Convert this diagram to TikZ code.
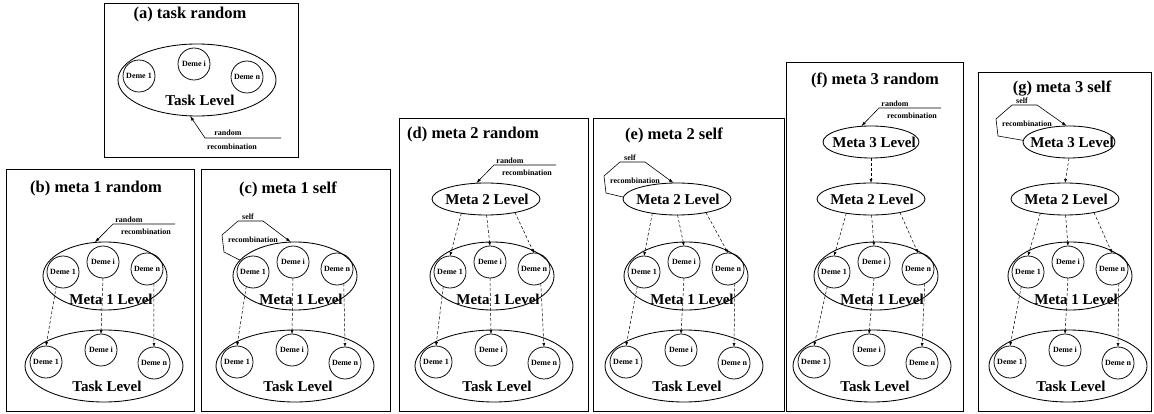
\documentclass[tikz,border=0pt]{standalone}
\usepackage{fontspec}
\setmainfont{Liberation Serif}
\usetikzlibrary{shapes.geometric,calc,arrows.meta}
\tikzset{
  frame/.style={draw, line width=0.7pt},
  ttl/.style={font=\fontsize{16.5}{16.5}\selectfont\bfseries, inner sep=0},
  lvlell/.style={draw, ellipse, line width=0.85pt, inner sep=0, outer sep=0},
  deme/.style={draw, circle, line width=0.75pt, minimum size=32pt, inner sep=0, outer sep=0, font=\fontsize{8}{8}\selectfont\bfseries},
  lvltxt/.style={font=\fontsize{15}{15}\selectfont\bfseries, inner sep=0},
  anntxt/.style={font=\fontsize{8}{8}\selectfont\bfseries, inner sep=0},
  dep/.style={draw, dash pattern=on 3pt off 2pt, line width=0.5pt, -{Latex[length=4pt,width=3pt]}},
  ann/.style={draw, line width=0.6pt, -{Latex[length=5pt,width=3pt]}},
}
\newcommand\taskgrp[3]{%
  \node[lvlell, minimum width=158pt, minimum height=72pt] (#1) at (#2,#3) {};
  \node[deme] (#1-1) at ($(#1)+(-58,-4)$) {Deme 1};
  \node[deme] (#1-i) at ($(#1)+(-3,-16)$) {Deme i};
  \node[deme] (#1-n) at ($(#1)+(50,-3)$) {Deme n};
  \node[lvltxt] (#1-l) at ($(#1)+(3,20)$) {Task Level};}
\newcommand\metaonegrp[3]{%
  \node[lvlell, minimum width=124pt, minimum height=68pt] (#1) at (#2,#3) {};
  \node[deme] (#1-1) at ($(#1)+(-42,-4)$) {Deme 1};
  \node[deme] (#1-i) at ($(#1)+(-2,-14)$) {Deme i};
  \node[deme] (#1-n) at ($(#1)+(42,-7)$) {Deme n};
  \node[lvltxt] (#1-l) at ($(#1)+(6,23)$) {Meta 1 Level};}
\newcommand\metagrp[6]{%
  \node[lvlell, minimum width=#5pt, minimum height=32pt] (#1) at (#2,#3) {};
  \node[lvltxt] (#1-l) at ($(#1)+(#6,0)$) {#4};}
\newcommand\depsdown[2]{%
  \draw[dep] (#1-1.-115) -- (#2-1.north);
  \draw[dep] (#1-i.south) -- (#2-i.north);
  \draw[dep] (#1-n.-65) -- (#2-n.north);}
\newcommand\depsmeta[2]{%
  \draw[dep] (#1.-150) -- (#2-1.north);
  \draw[dep] (#1.-88) -- (#2-i.north);
  \draw[dep] (#1.-25) -- (#2-n.north);}
\newcommand\randann[2]{%
  \coordinate (#1-ra) at ($(#1.north)+(8,-18)$);
  \coordinate (#1-rb) at ($(#1.north)+(70,-18)$);
  \draw[ann] (#1-rb) -- (#1-ra) -- (#1.#2);
  \node[anntxt] (#1-rt) at ($(#1-ra)+(16,-4)$) {random};
  \node[anntxt] (#1-rr) at ($(#1-ra)+(33,8)$) {recombination};}
\newcommand\selfann[3]{%
  \coordinate (#1-s1) at ($(#1.north)+(-71,10)$);
  \coordinate (#1-s2) at ($(#1.north)+(-73,-7)$);
  \coordinate (#1-s3) at ($(#1.north)+(-57,-21)$);
  \coordinate (#1-s4) at ($(#1.north)+(-32,-21)$);
  \draw[ann] (#1.#2) -- (#1-s1) -- (#1-s2) -- (#1-s3) -- (#1-s4) -- (#1.#3);
  \node[anntxt] (#1-st) at ($(#1.north)+(-47,-25)$) {self};
  \node[anntxt] (#1-sr) at ($(#1.north)+(-42,-2)$) {recombination};}
\begin{document}
\begin{tikzpicture}[x=1pt,y=-1pt]
\useasboundingbox (0,0) rectangle (1154,414);
\fill[white] (0,0) rectangle (1154,414);
% frames
\draw[frame] (104,3) rectangle (298,157);
\draw[frame] (6,169) rectangle (194,411);
\draw[frame] (201,169) rectangle (390,411);
\draw[frame] (399,118) rectangle (588,411);
\draw[frame] (593,118) rectangle (784,411);
\draw[frame] (786,62) rectangle (963,411);
\draw[frame] (978,72) rectangle (1151,411);
% titles
\node[ttl] (a-title) at (190,15) {(a) task random};
\node[ttl] (b-title) at (96,189) {(b) meta 1 random};
\node[ttl] (c-title) at (288,189) {(c) meta 1 self};
\node[ttl] (d-title) at (473,135) {(d) meta 2 random};
\node[ttl] (e-title) at (674,135) {(e) meta 2 self};
\node[ttl] (f-title) at (875,80) {(f) meta 3 random};
\node[ttl] (g-title) at (1062,89) {(g) meta 3 self};
% (a)
\taskgrp{a-t}{197}{80}
\coordinate (a-ra) at (205,138);
\coordinate (a-rb) at (281,138);
\draw[ann] (a-rb) -- (a-ra) -- (a-t.-101);
\node[anntxt] (a-rt) at (228,133) {random};
\node[anntxt] (a-rr) at (232,147) {recombination};
% (b)
\metaonegrp{b-m1}{105}{276}
\taskgrp{b-t}{104}{366}
\depsdown{b-m1}{b-t}
\randann{b-m1}{107}
% (c)
\metaonegrp{c-m1}{295}{276}
\taskgrp{c-t}{295}{366}
\depsdown{c-m1}{c-t}
\selfann{c-m1}{164}{97}
% (d)
\metagrp{d-m2}{486}{199}{Meta 2 Level}{108}{1}
\metaonegrp{d-m1}{492}{276}
\taskgrp{d-t}{494}{366}
\depsmeta{d-m2}{d-m1}
\depsdown{d-m1}{d-t}
\randann{d-m2}{122}
% (e)
\metagrp{e-m2}{677}{199}{Meta 2 Level}{108}{1}
\metaonegrp{e-m1}{686}{276}
\taskgrp{e-t}{684}{366}
\depsmeta{e-m2}{e-m1}
\depsdown{e-m1}{e-t}
\selfann{e-m2}{178}{102}
% (f)
\metagrp{f-m3}{871}{142}{Meta 3 Level}{96}{3}
\metagrp{f-m2}{871}{199}{Meta 2 Level}{108}{1}
\metaonegrp{f-m1}{876}{276}
\taskgrp{f-t}{872}{366}
\draw[dep] (f-m3.south) -- (f-m2.north);
\depsmeta{f-m2}{f-m1}
\depsdown{f-m1}{f-t}
\randann{f-m3}{122}
% (g)
\metagrp{g-m3}{1069}{142}{Meta 3 Level}{92}{3}
\metagrp{g-m2}{1065}{199}{Meta 2 Level}{108}{1}
\metaonegrp{g-m1}{1070}{276}
\taskgrp{g-t}{1068}{366}
\draw[dep] (g-m3.south) -- (g-m2.north);
\depsmeta{g-m2}{g-m1}
\depsdown{g-m1}{g-t}
\selfann{g-m3}{178}{98}
\end{tikzpicture}
\end{document}
